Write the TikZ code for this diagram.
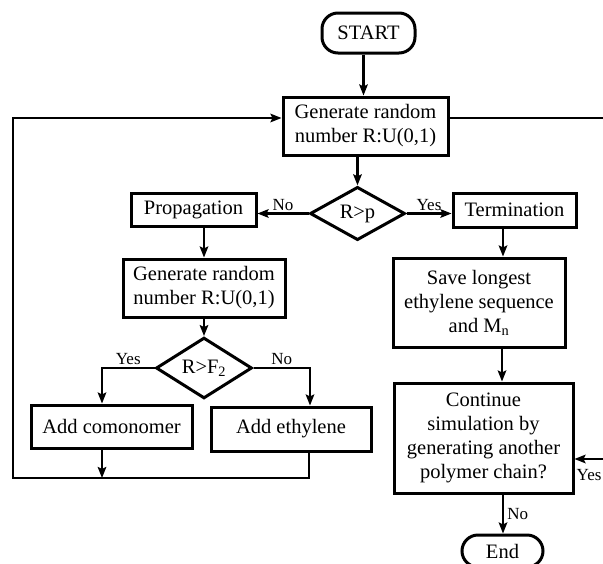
\documentclass[tikz,border=0pt]{standalone}
\usepackage{fontspec}
\setmainfont{Liberation Serif}
\usetikzlibrary{shapes.geometric,arrows.meta}
\begin{document}
\begin{tikzpicture}[x=1pt,y=-1pt,
  box/.style={draw,line width=3pt,inner sep=0pt,align=center,
    font=\fontsize{20.5}{24}\selectfont},
  term/.style={box,rounded corners=16pt},
  dia/.style={draw,diamond,line width=3pt,inner sep=0pt,
    font=\fontsize{20.5}{24}\selectfont},
  lab/.style={font=\fontsize{17}{20}\selectfont,inner sep=0pt},
  conn/.style={line width=2.5pt},
  arr/.style={conn,-{Stealth[length=11pt,width=8.5pt,inset=2pt]}}]
\useasboundingbox (0,0) rectangle (603,563);
\clip (0,0) rectangle (603,563);
\fill[white] (0,0) rectangle (603,563);

\node[term,minimum width=93pt,minimum height=40pt] (start) at (368.5,33) {START};
\node[box,minimum width=165pt,minimum height=58pt] (gen1) at (365.5,126) {Generate random\\number R:U(0,1)};
\node[dia,minimum width=95pt,minimum height=53pt] (d1) at (357.5,213.5) {R>p};
\node[box,minimum width=125pt,minimum height=33pt] (prop) at (193.5,209.5) {Propagation};
\node[box,minimum width=123pt,minimum height=34pt] (termn) at (514.5,210) {Termination};
\node[box,minimum width=162pt,minimum height=58pt] (gen2) at (204,288) {Generate random\\number R:U(0,1)};
\node[dia,minimum width=96pt,minimum height=50pt] (d2) at (204,368) {R>F\textsubscript{2}};
\node[box,minimum width=161pt,minimum height=43pt] (comon) at (111.5,426.5) {Add comonomer};
\node[box,minimum width=160pt,minimum height=44pt] (ethyl) at (291,429) {Add ethylene};
\node[box,minimum width=172pt,minimum height=89pt] (save) at (479,302.5) {Save longest\\ethylene sequence\\and M\textsubscript{n}};
\node[box,minimum width=179pt,minimum height=110pt] (cont) at (483.5,438) {Continue\\simulation by\\generating another\\polymer chain?};
\node[term,minimum width=81pt,minimum height=32pt] (endn) at (502.5,551) {End};

% coordinates for free ends / corners
\coordinate (redge1) at (603,118);
\coordinate (redge2) at (603,459);
\coordinate (lcorner) at (13,478);
\coordinate (ltop) at (13,118);
\coordinate (bcorner) at (309,478);

% connectors
\draw[arr] ([xshift=-5pt]start.south) -- ([xshift=-5pt]start.south |- gen1.north);
\draw[arr] (d1.north |- gen1.south) -- (d1.north);
\draw[arr] (d1.west) -- (d1.west -| prop.east) node[lab,midway,above=2pt] {No};
\draw[arr] (d1.east) -- (d1.east -| termn.west) node[lab,midway,above=2pt] {Yes};
\draw[arr] (gen2.north |- prop.south) -- (gen2.north);
\draw[arr] (gen2.south) -- (d2.north);
\draw[arr] (d2.west) -| ([xshift=-9.5pt]comon.north) node[lab,pos=0.25,above=2pt] {Yes};
\draw[arr] (d2.east) -| ([xshift=19pt]ethyl.north) node[lab,pos=0.25,above=2pt] {No};
\draw[arr] ([xshift=-9.5pt]comon.south) -- ([xshift=-9.5pt]comon.south |- lcorner);
\draw[arr] ([xshift=18pt]ethyl.south) -- (bcorner) -- (lcorner) -- (ltop) -- (ltop -| gen1.west);
\draw[conn] (redge1 -| gen1.east) -- (redge1);
\draw[arr] ([xshift=-11.5pt]termn.south) -- ([xshift=-11.5pt]termn.south |- save.north);
\draw[arr] ([xshift=23pt]save.south) -- ([xshift=23pt]save.south |- cont.north);
\draw[arr] ([xshift=19.5pt]cont.south) -- ([xshift=19.5pt]cont.south |- endn.north) node[lab,midway,right=3pt] {No};
\draw[arr] (redge2) -- (redge2 -| cont.east);
\node[lab,anchor=north west] (yesr) at (576.5,469) {Yes};
\end{tikzpicture}
\end{document}
